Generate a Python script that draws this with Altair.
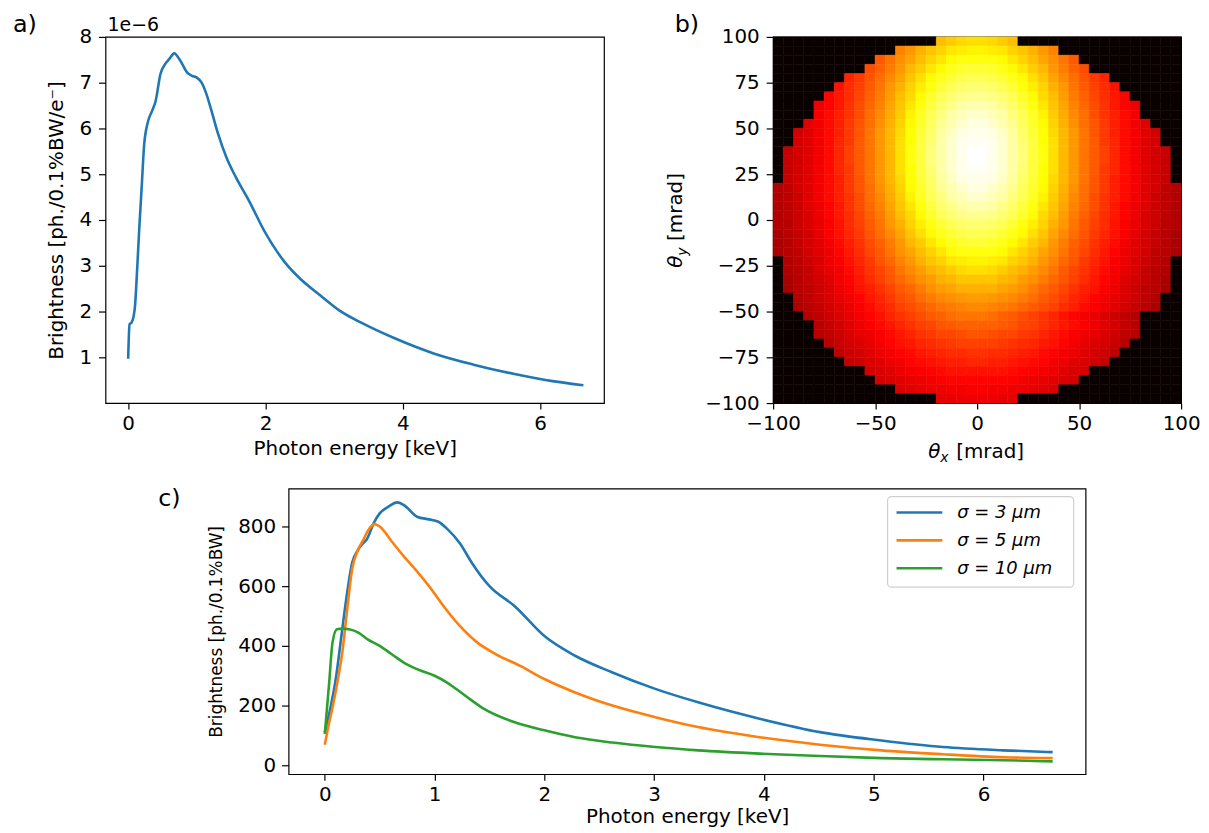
import altair as alt
import pandas as pd

# ---------------- data: panel a ----------------
energy_a = [0.0, 0.02, 0.05, 0.08, 0.10, 0.13, 0.16, 0.20, 0.23, 0.28, 0.35, 0.40, 0.47, 0.54,
            0.60, 0.67, 0.76, 0.86, 0.93, 1.00, 1.07, 1.14, 1.22, 1.31, 1.43, 1.57, 1.76, 1.98,
            2.28, 2.51, 2.80, 3.08, 3.43, 3.89, 4.46, 5.03, 5.61, 6.18, 6.63]
bright_a = [0.97, 1.72, 1.76, 1.90, 2.13, 2.90, 3.77, 4.80, 5.59, 6.10, 6.39, 6.60, 7.19, 7.41,
            7.52, 7.64, 7.48, 7.22, 7.15, 7.11, 7.00, 6.75, 6.35, 5.88, 5.37, 4.93, 4.42, 3.77,
            3.08, 2.71, 2.35, 2.02, 1.73, 1.41, 1.08, 0.84, 0.64, 0.48, 0.39]

# ---------------- data: panel c ----------------
energy_s3 = [0.0, 0.05, 0.10, 0.15, 0.20, 0.25, 0.30, 0.35, 0.38, 0.45, 0.50, 0.58, 0.66, 0.72,
             0.84, 0.95, 1.03, 1.11, 1.23, 1.34, 1.50, 1.73, 2.00, 2.28, 2.62, 3.01, 3.40, 3.96,
             4.51, 5.07, 5.63, 6.18, 6.63]
bright_s3 = [110, 190, 290, 430, 570, 680, 720, 745, 756, 815, 844, 867, 881, 872,
             833, 824, 817, 794, 744, 678, 600, 533, 433, 367, 311, 256, 211, 156,
             111, 83, 61, 50, 44]
energy_s5 = [0.0, 0.04, 0.08, 0.12, 0.16, 0.20, 0.25, 0.30, 0.35, 0.40, 0.45, 0.50, 0.61, 0.72,
             0.84, 0.95, 1.06, 1.23, 1.39, 1.56, 1.78, 2.00, 2.28, 2.62, 3.01, 3.40, 3.96, 4.51,
             5.07, 5.63, 6.18, 6.63]
bright_s5 = [69, 144, 211, 290, 380, 510, 660, 720, 755, 790, 808, 800, 750, 700,
             650, 600, 544, 467, 411, 372, 333, 289, 244, 200, 161, 128, 94, 69,
             50, 37, 27, 24]
energy_s10 = [0.0, 0.04, 0.07, 0.11, 0.16, 0.22, 0.31, 0.39, 0.50, 0.61, 0.72, 0.84, 1.00, 1.11,
              1.28, 1.45, 1.73, 2.00, 2.28, 2.62, 3.01, 3.40, 3.96, 4.51, 5.07, 5.63, 6.18, 6.63]
bright_s10 = [105, 278, 411, 456, 458, 456, 444, 422, 400, 372, 344, 322, 300, 278,
              233, 189, 144, 117, 94, 76, 61, 50, 39, 31, 24, 20, 17, 13]
series_names = ["σ = 3 μm", "σ = 5 μm", "σ = 10 μm"]
series_colors = ["#1f77b4", "#ff7f0e", "#2ca02c"]

# ---------------- data: panel b (angular distribution, % of max, 5 mrad cells) ----------------
theta_x = [-97.5, -92.5, -87.5, -82.5, -77.5, -72.5, -67.5, -62.5, -57.5, -52.5,
           -47.5, -42.5, -37.5, -32.5, -27.5, -22.5, -17.5, -12.5, -7.5, -2.5,
           2.5, 7.5, 12.5, 17.5, 22.5, 27.5, 32.5, 37.5, 42.5, 47.5,
           52.5, 57.5, 62.5, 67.5, 72.5, 77.5, 82.5, 87.5, 92.5, 97.5]
theta_y = [97.5, 92.5, 87.5, 82.5, 77.5, 72.5, 67.5, 62.5, 57.5, 52.5,
           47.5, 42.5, 37.5, 32.5, 27.5, 22.5, 17.5, 12.5, 7.5, 2.5,
           -2.5, -7.5, -12.5, -17.5, -22.5, -27.5, -32.5, -37.5, -42.5, -47.5,
           -52.5, -57.5, -62.5, -67.5, -72.5, -77.5, -82.5, -87.5, -92.5, -97.5]
Z = [0]
heat_rows = [
    Z*16 + [65,67,69,70,70,69,67,65] + Z*16,
    Z*12 + [56,59,63,66,68,71,72,73,73,72,71,68,66,63,59,56] + Z*12,
    Z*10 + [50,54,58,61,65,68,71,74,76,76,76,76,74,71,68,65,61,58,54,50] + Z*10,
    Z*9 + [48,51,55,59,64,67,71,74,77,79,80,80,79,77,74,71,67,64,59,55,51,48] + Z*9,
    Z*7 + [42,45,49,53,57,61,66,70,74,77,80,82,83,83,82,80,77,74,70,66,61,57,53,49,45,42] + Z*7,
    Z*6 + [39,43,46,50,54,59,63,68,72,76,80,83,85,86,86,85,83,80,76,72,68,63,59,54,50,46,43,39] + Z*6,
    Z*5 + [37,40,43,47,51,55,60,65,69,74,79,83,86,88,89,89,88,86,83,79,74,69,65,60,55,51,47,43,40,37] + Z*5,
    Z*4 + [34,37,40,44,48,52,56,61,66,71,76,81,85,88,91,92,92,91,88,85,81,76,71,66,61,56,52,48,44,40,37,34] + Z*4,
    Z*4 + [35,38,41,44,48,53,57,62,67,73,78,83,87,91,93,95,95,93,91,87,83,78,73,67,62,57,53,48,44,41,38,35] + Z*4,
    Z*3 + [32,35,38,41,45,49,53,58,63,68,74,79,84,89,92,95,97,97,95,92,89,84,79,74,68,63,58,53,49,45,41,38,35,32] + Z*3,
    Z*2 + [30,32,35,38,41,45,49,54,59,64,69,75,80,85,90,94,97,98,98,97,94,90,85,80,75,69,64,59,54,49,45,41,38,35,32,30] + Z*2,
    Z*2 + [30,32,35,38,42,45,50,54,59,64,70,75,81,86,91,95,98,99,99,98,95,91,86,81,75,70,64,59,54,50,45,42,38,35,32,30] + Z*2,
    Z + [28,30,32,35,38,42,46,50,54,59,64,70,76,81,87,91,95,98,100,100,98,95,91,87,81,76,70,64,59,54,50,46,42,38,35,32,30,28] + Z,
    Z + [28,30,32,35,38,42,46,50,54,59,64,70,76,81,87,91,95,98,100,100,98,95,91,87,81,76,70,64,59,54,50,46,42,38,35,32,30,28] + Z,
    Z + [28,30,32,35,38,42,45,50,54,59,64,70,75,81,86,91,95,98,99,99,98,95,91,86,81,75,70,64,59,54,50,45,42,38,35,32,30,28] + Z,
    Z + [28,30,32,35,38,41,45,49,54,59,64,69,75,80,85,90,94,97,98,98,97,94,90,85,80,75,69,64,59,54,49,45,41,38,35,32,30,28] + Z,
    [25,27,30,32,35,38,41,45,49,53,58,63,68,74,79,84,89,92,95,97,97,95,92,89,84,79,74,68,63,58,53,49,45,41,38,35,32,30,27,25],
    [25,27,29,32,35,38,41,44,48,53,57,62,67,73,78,83,87,91,93,95,95,93,91,87,83,78,73,67,62,57,53,48,44,41,38,35,32,29,27,25],
    [25,27,29,32,34,37,40,44,48,52,56,61,66,71,76,81,85,88,91,92,92,91,88,85,81,76,71,66,61,56,52,48,44,40,37,34,32,29,27,25],
    [25,27,29,31,34,37,40,43,47,51,55,60,65,69,74,79,83,86,88,89,89,88,86,83,79,74,69,65,60,55,51,47,43,40,37,34,31,29,27,25],
    [25,26,29,31,33,36,39,43,46,50,54,59,63,68,72,76,80,83,85,86,86,85,83,80,76,72,68,63,59,54,50,46,43,39,36,33,31,29,26,25],
    [24,26,28,30,33,36,39,42,45,49,53,57,61,66,70,74,77,80,82,83,83,82,80,77,74,70,66,61,57,53,49,45,42,39,36,33,30,28,26,24],
    [24,26,28,30,32,35,38,41,44,48,51,55,59,64,67,71,74,77,79,80,80,79,77,74,71,67,64,59,55,51,48,44,41,38,35,32,30,28,26,24],
    [24,26,27,30,32,34,37,40,43,47,50,54,58,61,65,68,71,74,76,76,76,76,74,71,68,65,61,58,54,50,47,43,40,37,34,32,30,27,26,24],
    Z + [25,27,29,31,34,36,39,42,45,49,52,56,59,63,66,68,71,72,73,73,72,71,68,66,63,59,56,52,49,45,42,39,36,34,31,29,27,25] + Z,
    Z + [25,26,28,31,33,35,38,41,44,47,50,54,57,60,63,65,67,69,70,70,69,67,65,63,60,57,54,50,47,44,41,38,35,33,31,28,26,25] + Z,
    Z + [24,26,28,30,32,35,37,40,43,46,49,52,55,58,60,63,64,66,66,66,66,64,63,60,58,55,52,49,46,43,40,37,35,32,30,28,26,24] + Z,
    Z + [24,26,27,29,31,34,36,39,41,44,47,50,52,55,58,60,61,63,63,63,63,61,60,58,55,52,50,47,44,41,39,36,34,31,29,27,26,24] + Z,
    Z*2 + [25,27,29,31,33,35,37,40,42,45,48,50,53,55,57,58,59,60,60,59,58,57,55,53,50,48,45,42,40,37,35,33,31,29,27,25] + Z*2,
    Z*2 + [24,26,28,30,32,34,36,38,41,43,46,48,50,52,54,55,56,57,57,56,55,54,52,50,48,46,43,41,38,36,34,32,30,28,26,24] + Z*2,
    Z*3 + [25,27,29,31,33,35,37,39,42,44,46,48,50,51,53,54,54,54,53,51,50,48,46,44,42,39,37,35,33,31,29,27,25] + Z*3 + Z,
    Z*4 + [26,28,30,32,34,36,38,40,42,44,46,47,49,50,51,51,51,51,50,49,47,46,44,42,40,38,36,34,32,30,28,26] + Z*4,
    Z*4 + [26,27,29,31,33,34,36,38,40,42,44,45,47,47,48,49,49,48,47,47,45,44,42,40,38,36,34,33,31,29,27,26] + Z*4,
    Z*5 + [26,28,30,31,33,35,37,39,40,42,43,44,45,46,46,46,46,45,44,43,42,40,39,37,35,33,31,30,28,26] + Z*5,
    Z*6 + [27,29,30,32,34,35,37,38,40,41,42,43,43,44,44,43,43,42,41,40,38,37,35,34,32,30,29,27] + Z*6,
    Z*7 + [28,29,31,32,34,35,37,38,39,40,41,41,42,42,41,41,40,39,38,37,35,34,32,31,29,28] + Z*7,
    Z*9 + [30,31,32,34,35,36,37,38,39,39,39,39,39,39,38,37,36,35,34,32,31,30] + Z*9,
    Z*10 + [30,31,32,33,34,35,36,37,37,37,37,37,37,36,35,34,33,32,31,30] + Z*10,
    Z*12 + [31,32,33,34,34,35,35,36,36,35,35,34,34,33,32,31] + Z*12,
    Z*16 + [33,33,34,34,34,34,33,33] + Z*16,
]
hot_stops = [0, 36.5, 74.6, 100]
hot_colors = ["#0b0000", "#ff0000", "#ffff00", "#ffffff"]

x_ticks_a = [0, 2, 4, 6]
y_ticks_a = [1, 2, 3, 4, 5, 6, 7, 8]
x_ticks_b = [-100, -50, 0, 50, 100]
y_ticks_b = [-100, -75, -50, -25, 0, 25, 50, 75, 100]
x_ticks_c = [0, 1, 2, 3, 4, 5, 6]
y_ticks_c = [0, 200, 400, 600, 800]

# ---------------- tables ----------------
df_a = pd.DataFrame({"E": energy_a, "B": bright_a})
parts = []
for name, es, bs in zip(series_names, [energy_s3, energy_s5, energy_s10],
                        [bright_s3, bright_s5, bright_s10]):
    parts.append(pd.DataFrame({"E": es, "B": bs, "s": name}))
df_c = pd.concat(parts, ignore_index=True)
cells = []
for ty, row in zip(theta_y, heat_rows):
    for tx, v in zip(theta_x, row):
        cells.append({"tx": tx, "ty": ty, "v": v})
df_b = pd.DataFrame(cells)
one = pd.DataFrame({"k": [0]})

FONT = "DejaVu Sans"


def txt(s, x, y, size, font=FONT, style="normal", angle=0, align="left"):
    kw = dict(text=s, fontSize=size, font=font, fontStyle=style, align=align,
              baseline="alphabetic", color="black")
    if angle:
        kw["angle"] = angle
    return alt.Chart(one).mark_text(**kw).encode(x=alt.value(x), y=alt.value(y))


def hline(color, x1, x2, y):
    return alt.Chart(one).mark_rule(color=color, strokeWidth=2.6).encode(
        x=alt.value(x1), x2=alt.value(x2), y=alt.value(y))


E_DOM = [-0.33, 6.93]

# ---------------- panel a ----------------
line_a = alt.Chart(df_a).mark_line(color="#1f77b4", strokeWidth=2.6, interpolate="monotone").encode(
    x=alt.X("E:Q", scale=alt.Scale(domain=E_DOM, nice=False, zero=False),
            axis=alt.Axis(values=x_ticks_a, title="Photon energy [keV]", labelFontSize=20,
                          titleFontSize=20, tickSize=6, labelPadding=5, titlePadding=5)),
    y=alt.Y("B:Q", scale=alt.Scale(domain=[0, 8], nice=False, zero=False),
            axis=alt.Axis(values=y_ticks_a, title="Brightness [ph./0.1%BW/e⁻]", labelFontSize=20,
                          titleFontSize=20, tickSize=7, labelPadding=7, titlePadding=12)),
)
panel_a = alt.layer(
    line_a,
    txt("a)", -93, -5, 24),
    txt("1e−6", 2, -6, 19),
).properties(width=501, height=368)

# ---------------- panel b ----------------
heat = alt.Chart(df_b).transform_calculate(
    x0="datum.tx - 2.5", x1="datum.tx + 2.5", y0="datum.ty - 2.5", y1="datum.ty + 2.5"
).mark_rect(strokeWidth=0.6).encode(
    x=alt.X("x0:Q", scale=alt.Scale(domain=[-100, 100], nice=False, zero=False),
            axis=alt.Axis(values=x_ticks_b, title=None, labelFontSize=20, tickSize=6,
                          labelPadding=5)),
    x2="x1:Q",
    y=alt.Y("y0:Q", scale=alt.Scale(domain=[-100, 100], nice=False, zero=False),
            axis=alt.Axis(values=y_ticks_b, title=None, labelFontSize=20, tickSize=7,
                          labelPadding=7)),
    y2="y1:Q",
    color=alt.Color("v:Q", scale=alt.Scale(domain=hot_stops, range=hot_colors, interpolate="rgb"),
                    legend=None),
    stroke=alt.Stroke("v:Q", scale=alt.Scale(domain=hot_stops, range=hot_colors, interpolate="rgb"),
                      legend=None),
)
panel_b = alt.layer(
    heat,
    txt("b)", -99, -5, 24),
    txt("θ", 156, 423, 20, style="italic"),
    txt("x", 168, 427, 14, style="italic"),
    txt("[mrad]", 184, 423, 20),
    txt("θ", -92, 232, 20, style="italic", angle=270),
    txt("y", -87, 220, 14, style="italic", angle=270),
    txt("[mrad]", -92, 205, 20, angle=270),
).properties(width=410, height=368)

# ---------------- panel c ----------------
lines_c = alt.Chart(df_c).mark_line(strokeWidth=2.6, interpolate="monotone").encode(
    x=alt.X("E:Q", scale=alt.Scale(domain=E_DOM, nice=False, zero=False),
            axis=alt.Axis(values=x_ticks_c, title="Photon energy [keV]", labelFontSize=20,
                          titleFontSize=20, tickSize=6, labelPadding=4, titlePadding=3)),
    y=alt.Y("B:Q", scale=alt.Scale(domain=[-30, 927], nice=False, zero=False),
            axis=alt.Axis(values=y_ticks_c, title="Brightness [ph./0.1%BW]", labelFontSize=20,
                          titleFontSize=17, tickSize=7, labelPadding=6, titlePadding=12)),
    color=alt.Color("s:N", scale=alt.Scale(domain=series_names, range=series_colors), legend=None),
    detail="s:N",
)
legend_box = alt.Chart(one).mark_rect(fill="white", stroke="#cccccc", strokeWidth=1.2,
                                      cornerRadius=4, opacity=0.9).encode(
    x=alt.value(602), x2=alt.value(789), y=alt.value(8), y2=alt.value(99))
legend_layers = [legend_box]
for k, (name, col) in enumerate(zip(series_names, series_colors)):
    yy = 24 + 28 * k
    legend_layers.append(hline(col, 611, 657, yy))
    legend_layers.append(txt(name, 672, yy + 6, 18, style="italic"))

panel_c = alt.layer(
    lines_c, *legend_layers,
    txt("c)", -131, 17, 24),
).properties(width=801, height=287)

spacer = alt.Chart(one).mark_rect(opacity=0).encode(
    x=alt.value(0), x2=alt.value(1), y=alt.value(0), y2=alt.value(1)
).properties(width=51, height=1, view=alt.ViewBackground(stroke="transparent"))

top = alt.hconcat(panel_a, panel_b, spacing=60)
bottom = alt.hconcat(spacer, panel_c, spacing=0)

chart = alt.vconcat(top, bottom, spacing=20).properties(
    padding={"left": 4, "top": 2, "right": 0, "bottom": 0}
).configure_view(
    stroke="black", strokeWidth=1.2
).configure_axis(
    labelFont=FONT, titleFont=FONT, labelColor="black", titleColor="black",
    tickColor="black", tickWidth=1.2, domain=False, grid=False,
    titleFontWeight="normal", labelFlush=False, labelOverlap=False,
)

chart.save("out.html", embed_options={"renderer": "svg", "actions": False})
